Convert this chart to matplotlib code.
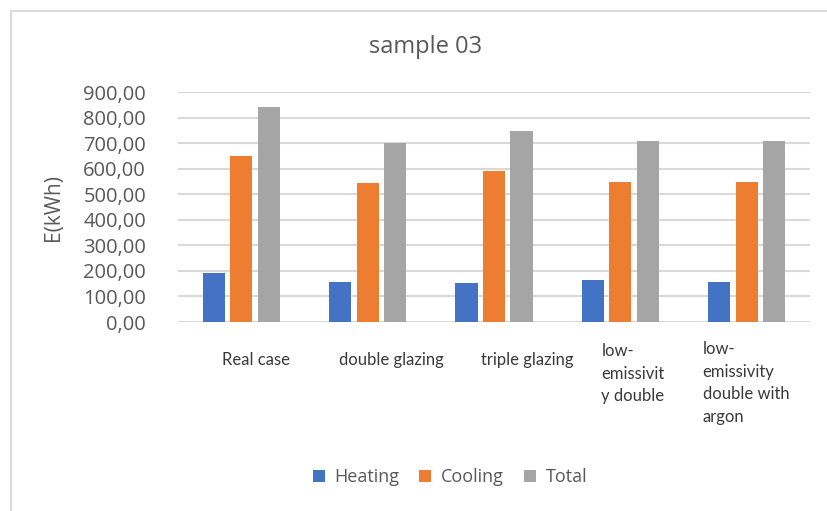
import numpy as np
import matplotlib.pyplot as plt
from matplotlib.patches import Rectangle

plt.rcParams['font.family'] = ['Open Sans', 'DejaVu Sans']

# energy demand per glazing option, kWh
cases = ['Real case', 'double glazing', 'triple glazing',
         'low-\nemissivit\ny double', 'low-\nemissivity\ndouble with\nargon']
heating = [191, 157, 154, 163, 157]
cooling = [648, 542, 591, 546, 546]
total = [841, 702, 747, 707, 707]

series = [('Heating', heating, '#4472C4'),
          ('Cooling', cooling, '#ED7D31'),
          ('Total', total, '#A5A5A5')]

# where each category label sits relative to its group (data units / pixels down)
label_dx = [-0.15, -0.23, -0.10, -0.15, -0.35]
label_dy = [-30, -30, -30, -21, -19]

txt = '#595959'
grid = '#d9d9d9'

fig = plt.figure(figsize=(8.28, 5.11), dpi=100)
ax = fig.add_axes([178/828, 189/511, 632/828, 230/511])

x = np.arange(len(cases))
w = 0.175
step = 0.218
for i, (name, vals, col) in enumerate(series):
    ax.bar(x + (i - 1)*step, vals, w, color=col, label=name, zorder=3)

ax.set_xlim(-0.5, len(cases) - 0.5)
ax.set_ylim(0, 900)
ax.set_yticks(np.arange(0, 901, 100))
ax.set_yticklabels([f'{v:.2f}'.replace('.', ',') for v in range(0, 901, 100)])
ax.tick_params(axis='y', length=0, pad=23, labelsize=14.5, labelcolor=txt)
ax.set_xticks([])
ax.grid(axis='y', color=grid, lw=1.5, zorder=0)
for s in ax.spines.values():
    s.set_visible(False)

ax.set_ylabel('E(kWh)', fontsize=15, color=txt, labelpad=14)

for i, lab in enumerate(cases):
    ax.annotate(lab, xy=(i + label_dx[i], 0), xycoords=('data', 'axes fraction'),
                xytext=(0, label_dy[i]*0.72), textcoords='offset points',
                ha='left', va='top', fontsize=12, color='#3a3a3a',
                linespacing=1.5, family=['Lato', 'DejaVu Sans'])

fig.text(426/828, 1 - 47/511, 'sample 03', ha='center', va='center',
         fontsize=17, color=txt)

fig.legend(loc='center', bbox_to_anchor=(450/828, 1 - 477/511), ncol=3,
           frameon=False, fontsize=13, labelcolor=txt, handlelength=0.65,
           handleheight=0.65, handletextpad=0.55, columnspacing=1.1)

# outer chart frame
fig.patches.append(Rectangle((11/828, -0.2), 1.2, 1.2 - 10.5/511,
                             transform=fig.transFigure, fill=False,
                             edgecolor=grid, lw=1.5))

fig.savefig('out.png', dpi=100)
